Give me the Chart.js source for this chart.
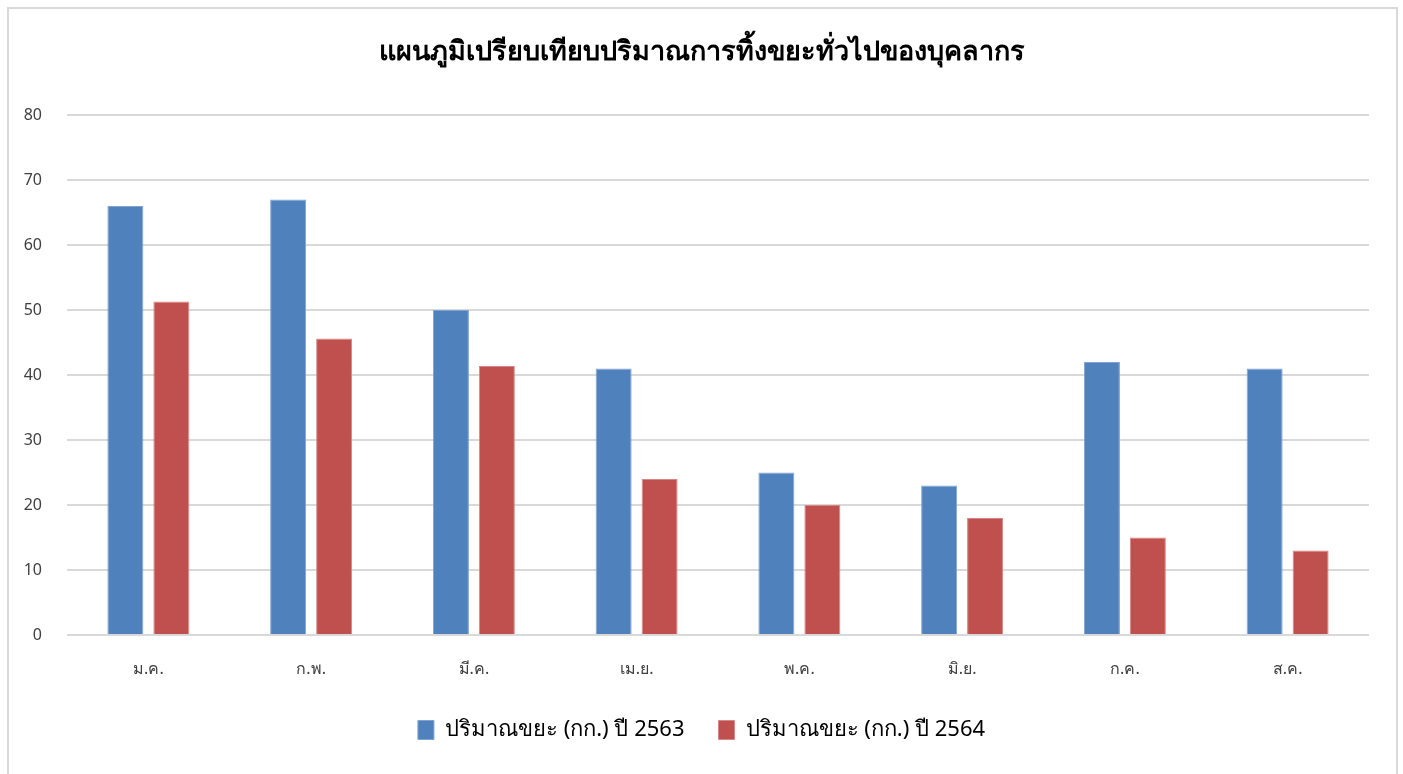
<!DOCTYPE html>
<html>
<head>
<meta charset="utf-8">
<script src="https://cdn.jsdelivr.net/npm/chart.js@4.4.1/dist/chart.umd.min.js"></script>
<style>
  html, body { margin: 0; padding: 0; background: #fff; overflow: hidden; }
  #frame { position: absolute; left: 7px; top: 7px; width: 1387px; height: 800px; border: 2px solid #d9d9d9; }
  #chart { position: absolute; left: 0; top: 0; }
</style>
</head>
<body>
<div id="frame"></div>
<canvas id="chart" width="1403" height="774"></canvas>
<script>
// months (Thai abbreviations)
const months = ['ม.ค.', 'ก.พ.', 'มี.ค.', 'เม.ย.', 'พ.ค.', 'มิ.ย.', 'ก.ค.', 'ส.ค.'];
const waste2563 = [66, 67, 50, 41, 25, 23, 42, 41];
const waste2564 = [51.3, 45.6, 41.4, 24, 20, 18, 15, 13];
const seriesNames = ['ปริมาณขยะ (กก.) ปี 2563', 'ปริมาณขยะ (กก.) ปี 2564'];
const chartTitle = 'แผนภูมิเปรียบเทียบปริมาณการทิ้งขยะทั่วไปของบุคลากร';

const fontFamily = '"Noto Sans", "DejaVu Sans", sans-serif';

new Chart(document.getElementById('chart'), {
    type: 'bar',
    data: {
        labels: months,
        datasets: [
            {
                label: seriesNames[0],
                data: waste2563,
                backgroundColor: '#4f81bd',
                borderColor: '#7fa3d1',
                borderWidth: 1,
                categoryPercentage: 0.565,
                barPercentage: 0.783,
            },
            {
                label: seriesNames[1],
                data: waste2564,
                backgroundColor: '#c0504d',
                borderColor: '#d68785',
                borderWidth: 1,
                categoryPercentage: 0.565,
                barPercentage: 0.783,
            },
        ],
    },
    options: {
        responsive: false,
        animation: false,
        devicePixelRatio: 1,
        layout: { padding: { top: 0, left: 0, right: 0, bottom: 23 } },
        plugins: {
            title: {
                display: true,
                text: chartTitle,
                color: '#000',
                font: { family: fontFamily, size: 27, weight: 'bold' },
                padding: { top: 36, bottom: 46.6 },
            },
            legend: {
                position: 'bottom',
                labels: {
                    color: '#000',
                    font: { family: fontFamily, size: 22 },
                    boxWidth: 16,
                    boxHeight: 19,
                    padding: 34,
                },
            },
            tooltip: { enabled: false },
        },
        scales: {
            x: {
                grid: { display: false },
                border: { display: false },
                ticks: { color: '#404040', font: { family: fontFamily, size: 16 }, padding: 17 },
                afterFit: (scale) => { scale.height = 50; },
            },
            y: {
                min: 0,
                max: 80,
                ticks: { stepSize: 10, color: '#404040', font: { family: fontFamily, size: 16 }, padding: 25 },
                grid: { color: '#d9d9d9', lineWidth: 2, drawTicks: false },
                border: { display: false },
                afterFit: (scale) => { scale.width = 67; },
            },
            // empty right axis, only keeps the plot off the right edge
            yRight: {
                position: 'right',
                grid: { display: false },
                border: { display: false },
                ticks: { display: false },
                afterFit: (scale) => { scale.width = 34; },
            },
        },
    },
});
</script>
</body>
</html>
